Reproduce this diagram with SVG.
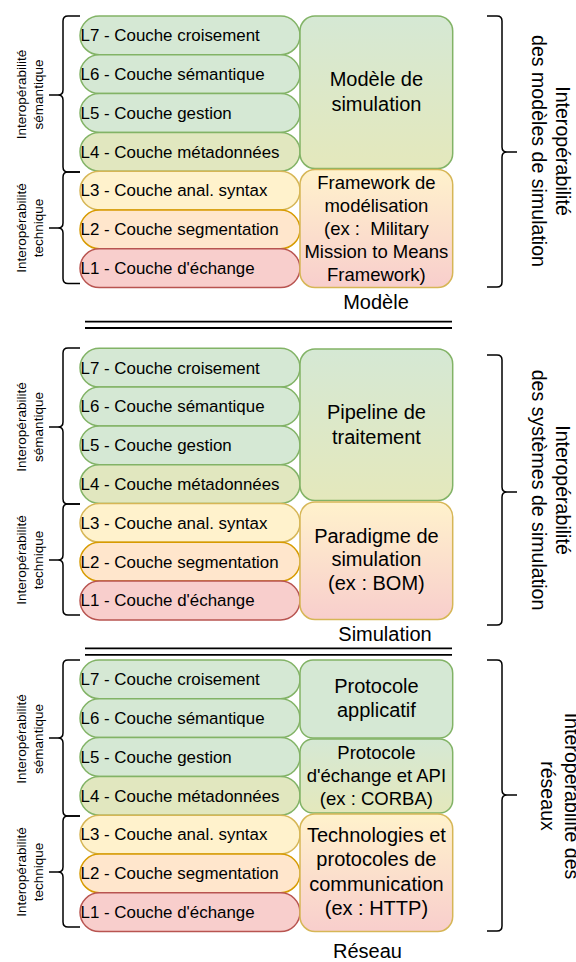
<svg xmlns="http://www.w3.org/2000/svg" width="576" height="962" viewBox="0 0 576 962">
  <style>
    .pill { stroke-width: 1.5; }
    .l7, .l6, .l5 { fill: #d5e8d4; stroke: #82b366; }
    .l4 { fill: #e1e7bf; stroke: #82b366; }
    .l3 { fill: #fff2cc; stroke: #d6b656; }
    .l2 { fill: #ffe6cc; stroke: #d79b00; }
    .l1 { fill: #f8cecc; stroke: #b85450; }
    .ptxt { font-family: "Liberation Sans", Arial, sans-serif; font-size: 16.9px; fill: #000; }
    .box { stroke-width: 1.5; }
    .green { fill: url(#gGreen); stroke: #82b366; }
    .greenflat { fill: #d5e8d4; stroke: #82b366; }
    .warm { fill: url(#gWarm); stroke: #d6b656; }
    .btxt { font-family: "Liberation Sans", Arial, sans-serif; font-size: 20px; fill: #000; text-anchor: middle; }
    .btxt.sm { font-size: 18.5px; }
    .side { font-family: "Liberation Sans", Arial, sans-serif; font-size: 13.5px; fill: #000; text-anchor: middle; }
    .big { font-family: "Liberation Sans", Arial, sans-serif; font-size: 19.6px; fill: #000; text-anchor: middle; }
    .brace { fill: none; stroke: #000; stroke-width: 1.5; }
    .sep { stroke: #000; stroke-width: 1.8; }
  </style>
  <defs>
    <linearGradient id="gGreen" x1="0" y1="0" x2="0" y2="1">
      <stop offset="0" stop-color="#d5e8d4"/>
      <stop offset="1" stop-color="#e4e8bc"/>
    </linearGradient>
    <linearGradient id="gWarm" x1="0" y1="0" x2="0" y2="1">
      <stop offset="0" stop-color="#fff2cc"/>
      <stop offset="1" stop-color="#f8cecc"/>
    </linearGradient>
  </defs>

  <!-- ===== Modèle ===== -->
  <g id="model-layers">
    <rect class="pill l7" x="80" y="16" width="220" height="38.8" rx="19.4"/>
    <rect class="pill l6" x="80" y="54.8" width="220" height="38.8" rx="19.4"/>
    <rect class="pill l5" x="80" y="93.6" width="220" height="38.8" rx="19.4"/>
    <rect class="pill l4" x="80" y="132.4" width="220" height="38.8" rx="19.4"/>
    <rect class="pill l3" x="80" y="171.2" width="220" height="38.8" rx="19.4"/>
    <rect class="pill l2" x="80" y="210" width="220" height="38.8" rx="19.4"/>
    <rect class="pill l1" x="80" y="248.8" width="220" height="38.8" rx="19.4"/>
    <text class="ptxt" x="80.5" y="41.2">L7 - Couche croisement</text>
    <text class="ptxt" x="80.5" y="80">L6 - Couche sémantique</text>
    <text class="ptxt" x="80.5" y="118.8">L5 - Couche gestion</text>
    <text class="ptxt" x="80.5" y="157.6">L4 - Couche métadonnées</text>
    <text class="ptxt" x="80.5" y="196.4">L3 - Couche anal. syntax</text>
    <text class="ptxt" x="80.5" y="235.2">L2 - Couche segmentation</text>
    <text class="ptxt" x="80.5" y="274">L1 - Couche d'échange</text>
  </g>
  <g id="model-sim">
    <rect class="box green" x="300" y="16" width="152.7" height="152.5" rx="15"/>
    <text class="btxt" x="376.4" y="86">Modèle de</text>
    <text class="btxt" x="376.4" y="110.5">simulation</text>
  </g>
  <g id="model-framework">
    <rect class="box warm" x="300" y="169.5" width="152.7" height="118" rx="15"/>
    <text class="btxt sm" x="376.4" y="189.2">Framework de</text>
    <text class="btxt sm" x="376.4" y="212.1">modélisation</text>
    <text class="btxt sm" x="376.4" y="235" xml:space="preserve">(ex :  Military</text>
    <text class="btxt sm" x="376.4" y="257.9">Mission to Means</text>
    <text class="btxt sm" x="376.4" y="280.8">Framework)</text>
  </g>
  <g id="model-braces">
    <path class="brace" d="M80 16 H68 Q63 16 63 21 V90 Q63 95 58 95 H49 M58 95 Q63 95 63 100 V167 Q63 172 68 172 H80"/>
    <path class="brace" d="M80 172 H68 Q63 172 63 177 V223 Q63 228 58 228 H49 M58 228 Q63 228 63 233 V278.5 Q63 283.5 68 283.5 H80"/>
    <path class="brace" d="M487 16 H497 Q502 16 502 21 V147 Q502 152 507 152 H517 M507 152 Q502 152 502 157 V282 Q502 287 497 287 H487"/>
  </g>
  <g id="model-labels">
    <text class="side" transform="translate(25.5 94.5) rotate(-90)">Interopérabilité</text>
    <text class="side" transform="translate(42.5 94.5) rotate(-90)">sémantique</text>
    <text class="side" transform="translate(25.5 228) rotate(-90)">Interopérabilité</text>
    <text class="side" transform="translate(42.5 228) rotate(-90)">technique</text>
    <text class="big" transform="translate(555.5 151) rotate(90)">Interopérabilité</text>
    <text class="big" transform="translate(532 151) rotate(90)">des modèles de simulation</text>
    <text class="btxt" x="376" y="308.5">Modèle</text>
  </g>

  <!-- separators between the three levels -->
  <g id="separators">
    <line class="sep" x1="85" y1="321.7" x2="452" y2="321.7"/>
    <line class="sep" x1="85" y1="328" x2="452" y2="328"/>
    <line class="sep" x1="85" y1="648.3" x2="452" y2="648.3"/>
    <line class="sep" x1="85" y1="654.8" x2="452" y2="654.8"/>
  </g>

  <!-- ===== Simulation ===== -->
  <g id="sim-layers">
    <rect class="pill l7" x="80" y="348.3" width="220" height="38.8" rx="19.4"/>
    <rect class="pill l6" x="80" y="387.1" width="220" height="38.8" rx="19.4"/>
    <rect class="pill l5" x="80" y="425.9" width="220" height="38.8" rx="19.4"/>
    <rect class="pill l4" x="80" y="464.7" width="220" height="38.8" rx="19.4"/>
    <rect class="pill l3" x="80" y="503.5" width="220" height="38.8" rx="19.4"/>
    <rect class="pill l2" x="80" y="542.3" width="220" height="38.8" rx="19.4"/>
    <rect class="pill l1" x="80" y="581.1" width="220" height="38.8" rx="19.4"/>
    <text class="ptxt" x="80.5" y="373.5">L7 - Couche croisement</text>
    <text class="ptxt" x="80.5" y="412.3">L6 - Couche sémantique</text>
    <text class="ptxt" x="80.5" y="451.1">L5 - Couche gestion</text>
    <text class="ptxt" x="80.5" y="489.9">L4 - Couche métadonnées</text>
    <text class="ptxt" x="80.5" y="528.7">L3 - Couche anal. syntax</text>
    <text class="ptxt" x="80.5" y="567.5">L2 - Couche segmentation</text>
    <text class="ptxt" x="80.5" y="606.3">L1 - Couche d'échange</text>
  </g>
  <g id="sim-pipeline">
    <rect class="box green" x="300" y="349" width="152.7" height="151.5" rx="15"/>
    <text class="btxt" x="376.4" y="419.3">Pipeline de</text>
    <text class="btxt" x="376.4" y="443.5">traitement</text>
  </g>
  <g id="sim-paradigm">
    <rect class="box warm" x="300" y="502" width="152.7" height="117.5" rx="15"/>
    <text class="btxt" x="376.4" y="542.5">Paradigme de</text>
    <text class="btxt" x="376.4" y="566.2">simulation</text>
    <text class="btxt" x="376.4" y="589.9">(ex : BOM)</text>
  </g>
  <g id="sim-braces">
    <path class="brace" d="M80 348 H68 Q63 348 63 353 V422 Q63 427 58 427 H49 M58 427 Q63 427 63 432 V499 Q63 504 68 504 H80"/>
    <path class="brace" d="M80 504 H68 Q63 504 63 509 V555 Q63 560 58 560 H49 M58 560 Q63 560 63 565 V610 Q63 615 68 615 H80"/>
    <path class="brace" d="M487 355 H497 Q502 355 502 360 V487 Q502 492 507 492 H517 M507 492 Q502 492 502 497 V620 Q502 625 497 625 H487"/>
  </g>
  <g id="sim-labels">
    <text class="side" transform="translate(25.5 427) rotate(-90)">Interopérabilité</text>
    <text class="side" transform="translate(42.5 427) rotate(-90)">sémantique</text>
    <text class="side" transform="translate(25.5 560) rotate(-90)">Interopérabilité</text>
    <text class="side" transform="translate(42.5 560) rotate(-90)">technique</text>
    <text class="big" transform="translate(555.5 490) rotate(90)">Interopérabilité</text>
    <text class="big" transform="translate(532 490) rotate(90)">des systèmes de simulation</text>
    <text class="btxt" x="385" y="640.5">Simulation</text>
  </g>

  <!-- ===== Réseau ===== -->
  <g id="net-layers">
    <rect class="pill l7" x="80" y="660" width="220" height="38.8" rx="19.4"/>
    <rect class="pill l6" x="80" y="698.8" width="220" height="38.8" rx="19.4"/>
    <rect class="pill l5" x="80" y="737.6" width="220" height="38.8" rx="19.4"/>
    <rect class="pill l4" x="80" y="776.4" width="220" height="38.8" rx="19.4"/>
    <rect class="pill l3" x="80" y="815.2" width="220" height="38.8" rx="19.4"/>
    <rect class="pill l2" x="80" y="854" width="220" height="38.8" rx="19.4"/>
    <rect class="pill l1" x="80" y="892.8" width="220" height="38.8" rx="19.4"/>
    <text class="ptxt" x="80.5" y="685.2">L7 - Couche croisement</text>
    <text class="ptxt" x="80.5" y="724">L6 - Couche sémantique</text>
    <text class="ptxt" x="80.5" y="762.8">L5 - Couche gestion</text>
    <text class="ptxt" x="80.5" y="801.6">L4 - Couche métadonnées</text>
    <text class="ptxt" x="80.5" y="840.4">L3 - Couche anal. syntax</text>
    <text class="ptxt" x="80.5" y="879.2">L2 - Couche segmentation</text>
    <text class="ptxt" x="80.5" y="918">L1 - Couche d'échange</text>
  </g>
  <g id="net-app">
    <rect class="box greenflat" x="300" y="660" width="152.7" height="78" rx="13"/>
    <text class="btxt" x="376.4" y="693">Protocole</text>
    <text class="btxt" x="376.4" y="717">applicatif</text>
  </g>
  <g id="net-api">
    <rect class="box green" x="300" y="739" width="152.7" height="74" rx="13"/>
    <text class="btxt sm" x="376.4" y="759">Protocole</text>
    <text class="btxt sm" x="376.4" y="782">d'échange et API</text>
    <text class="btxt sm" x="376.4" y="805">(ex : CORBA)</text>
  </g>
  <g id="net-tech">
    <rect class="box warm" x="300" y="814" width="152.7" height="117.5" rx="15"/>
    <text class="btxt" x="376.4" y="842">Technologies et</text>
    <text class="btxt" x="376.4" y="866.4">protocoles de</text>
    <text class="btxt" x="376.4" y="890.8">communication</text>
    <text class="btxt" x="376.4" y="915.2">(ex : HTTP)</text>
  </g>
  <g id="net-braces">
    <path class="brace" d="M80 660 H68 Q63 660 63 665 V733 Q63 738 58 738 H49 M58 738 Q63 738 63 743 V811 Q63 816 68 816 H80"/>
    <path class="brace" d="M80 816 H68 Q63 816 63 821 V867 Q63 872 58 872 H49 M58 872 Q63 872 63 877 V922 Q63 927 68 927 H80"/>
    <path class="brace" d="M487 660 H497 Q502 660 502 665 V790 Q502 795 507 795 H517 M507 795 Q502 795 502 800 V926 Q502 931 497 931 H487"/>
  </g>
  <g id="net-labels">
    <text class="side" transform="translate(25.5 739) rotate(-90)">Interopérabilité</text>
    <text class="side" transform="translate(42.5 739) rotate(-90)">sémantique</text>
    <text class="side" transform="translate(25.5 872) rotate(-90)">Interopérabilité</text>
    <text class="side" transform="translate(42.5 872) rotate(-90)">technique</text>
    <text class="big" transform="translate(564.5 796) rotate(90)">Interopérabilité des</text>
    <text class="big" transform="translate(541 796) rotate(90)">réseaux</text>
    <text class="btxt" x="367.5" y="958">Réseau</text>
  </g>

  <g id="connectors"/>
</svg>
